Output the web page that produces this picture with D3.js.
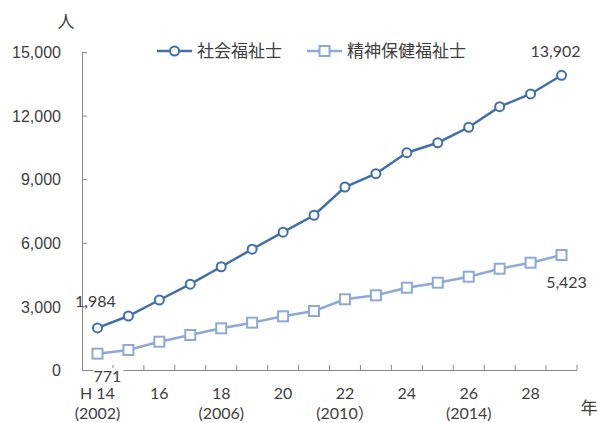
<!DOCTYPE html>
<html>
<head>
<meta charset="utf-8">
<title>社会福祉士・精神保健福祉士</title>
<script src="https://cdn.jsdelivr.net/npm/d3@7"></script>
<style>
    body{ margin:0; background:#fff; }
    svg{ display:block; font-family:"Lato","Noto Sans CJK JP",sans-serif; }
    .tick text{ fill:#404040; font-size:16px; }
    .lab{ fill:#404040; font-size:16px; }
    .leg{ fill:#404040; font-size:17px; font-family:"Noto Sans CJK JP",sans-serif; }
</style>
</head>
<body>
<svg width="598" height="423"></svg>
<script>
// 年度 (H14〜H29)
var years = ["H14","H15","H16","H17","H18","H19","H20","H21","H22","H23","H24","H25","H26","H27","H28","H29"];
var social = [1984, 2547, 3302, 4050, 4870, 5700, 6500, 7300, 8632, 9260, 10250, 10720, 11450, 12420, 13020, 13902];
var mental = [771, 943, 1335, 1651, 1965, 2233, 2532, 2783, 3335, 3523, 3882, 4118, 4401, 4778, 5061, 5423];
var yTicks = [0, 3000, 6000, 9000, 12000, 15000];
var xTop = ["H 14", "16", "18", "20", "22", "24", "26", "28"];
var xBottom = ["(2002)", "", "(2006)", "", "(2010）", "", "(2014)", ""];
var names = ["社会福祉士", "精神保健福祉士"];

var c1 = "#4170a9", c2 = "#8ea9d6", axisCol = "#898989";

var svg = d3.select("svg");
var x = d3.scaleBand().domain(years).range([82, 577]);
var y = d3.scaleLinear().domain([0, 15000]).range([370, 52]);
var cx = function(d, i){ return x(years[i]) + x.bandwidth()/2; };

// y axis (ticks inside)
var yAxis = svg.append("g").attr("transform", "translate(82,0)")
    .call(d3.axisLeft(y).tickValues(yTicks).tickFormat(d3.format(",")).tickSizeInner(-5).tickSizeOuter(0).tickPadding(21));
yAxis.selectAll("path, line").attr("stroke", axisCol);
yAxis.selectAll("text").attr("dy", "0.35em");

// x axis line + ticks between categories
svg.append("line").attr("x1", 82).attr("x2", 577).attr("y1", 370.5).attr("y2", 370.5).attr("stroke", axisCol);
svg.selectAll(".xt").data(years.slice(1).concat(["end"])).enter().append("line")
    .attr("x1", function(d){ return d == "end" ? 577 : x(d); })
    .attr("x2", function(d){ return d == "end" ? 577 : x(d); })
    .attr("y1", 370).attr("y2", 365).attr("stroke", axisCol);

// x labels every other year
xTop.forEach(function(t, k){
    var px = x(years[k*2]) + x.bandwidth()/2;
    svg.append("text").attr("class", "lab").attr("x", px).attr("y", 399).attr("text-anchor", "middle").text(t);
    if (xBottom[k]) svg.append("text").attr("class", "lab").attr("x", px).attr("y", 419).attr("text-anchor", "middle").text(xBottom[k]);
});
svg.append("text").attr("class", "leg").attr("x", 66).attr("y", 28).attr("text-anchor", "middle").text("人");
svg.append("text").attr("class", "leg").attr("x", 589).attr("y", 414).attr("text-anchor", "middle").text("年");

var line = d3.line().x(cx).y(function(d){ return y(d); });

// 精神保健福祉士
svg.append("path").datum(mental).attr("d", line).attr("fill", "none").attr("stroke", c2).attr("stroke-width", 2.5);
svg.selectAll(".sq").data(mental).enter().append("rect")
    .attr("x", function(d, i){ return cx(d, i) - 5; }).attr("y", function(d){ return y(d) - 5; })
    .attr("width", 10).attr("height", 10).attr("fill", "#fff").attr("stroke", c2).attr("stroke-width", 2);

// 社会福祉士
svg.append("path").datum(social).attr("d", line).attr("fill", "none").attr("stroke", c1).attr("stroke-width", 2.5);
svg.selectAll(".ci").data(social).enter().append("circle")
    .attr("cx", cx).attr("cy", function(d){ return y(d); }).attr("r", 4.5)
    .attr("fill", "#fff").attr("stroke", c1).attr("stroke-width", 2);

// data labels
var fmt = d3.format(",");
var last = years.length - 1;
svg.append("text").attr("class", "lab").attr("x", cx(0, last) - 6).attr("y", y(social[last]) - 18).attr("text-anchor", "middle").text(fmt(social[last]));
svg.append("text").attr("class", "lab").attr("x", cx(0, last) + 5).attr("y", y(mental[last]) + 33).attr("text-anchor", "middle").text(fmt(mental[last]));
svg.append("text").attr("class", "lab").attr("x", cx(0, 0) - 2).attr("y", y(social[0]) - 21).attr("text-anchor", "middle").text(fmt(social[0]));
svg.append("rect").attr("x", cx(0, 0) - 4).attr("y", 368).attr("width", 30).attr("height", 16).attr("fill", "#fff");
svg.append("text").attr("class", "lab").attr("x", cx(0, 0) + 10).attr("y", 382).attr("text-anchor", "middle").text(fmt(mental[0]));

// legend
var leg = [{x: 157, c: c1, name: names[0], shape: "c"}, {x: 307, c: c2, name: names[1], shape: "s"}];
leg.forEach(function(l){
    var g = svg.append("g");
    g.append("line").attr("x1", l.x).attr("x2", l.x + 35).attr("y1", 51).attr("y2", 51).attr("stroke", l.c).attr("stroke-width", 2.5);
    if (l.shape == "c") g.append("circle").attr("cx", l.x + 17.5).attr("cy", 51).attr("r", 4.5).attr("fill", "#fff").attr("stroke", l.c).attr("stroke-width", 2);
    else g.append("rect").attr("x", l.x + 12.5).attr("y", 46).attr("width", 10).attr("height", 10).attr("fill", "#fff").attr("stroke", l.c).attr("stroke-width", 2);
    g.append("text").attr("class", "leg").attr("x", l.x + 40).attr("y", 57).text(l.name);
});
</script>
</body>
</html>
